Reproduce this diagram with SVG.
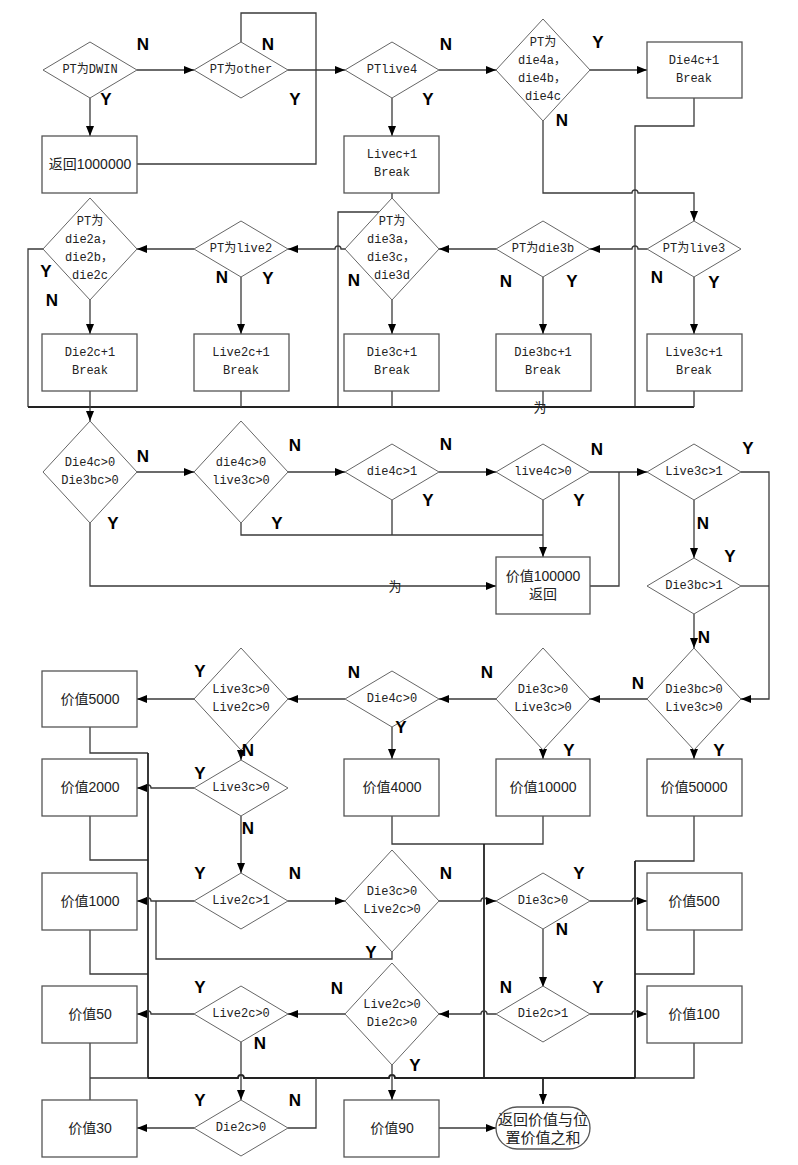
<svg xmlns="http://www.w3.org/2000/svg" width="798" height="1165" viewBox="0 0 798 1165">
<defs>
<marker id="ah" markerWidth="10" markerHeight="8" refX="10" refY="4" orient="auto" markerUnits="userSpaceOnUse">
<path d="M0,0 L10,4 L0,8 z" fill="#000"/>
</marker>
<style>
.c{fill:none;stroke:#3a3a3a;stroke-width:1.3}
.k{fill:none;stroke:#222;stroke-width:1.8}
.a{fill:none;stroke:#3a3a3a;stroke-width:1.3;marker-end:url(#ah)}
.d{fill:#fff;stroke:#666;stroke-width:1}
.b{fill:#fff;stroke:#555;stroke-width:1.3}
.m{font-family:"Liberation Mono","Noto Sans CJK SC",monospace;font-size:12px;fill:#222;text-anchor:middle;dominant-baseline:central}
.s{font-family:"Liberation Sans","Noto Sans CJK SC",sans-serif;font-size:14px;fill:#222;text-anchor:middle;dominant-baseline:central}
.l{font-family:"Liberation Sans",Arial,sans-serif;font-size:17px;font-weight:bold;fill:#000;text-anchor:middle;dominant-baseline:central}
</style>
</defs>
<rect width="798" height="1165" fill="#fff"/>
<g id="connectors">
<path class="a" d="M137,70 H194"/>
<path class="a" d="M90,98 V136"/>
<path class="a" d="M288,70 H345"/>
<path class="c" d="M137,164 H316 V13 H241 V42"/>
<path class="a" d="M439,70 H496"/>
<path class="a" d="M392,98 V136"/>
<path class="a" d="M590,70 H647"/>
<path class="c" d="M694,98 V126 H635 V407"/>
<path class="a" d="M543,121 V193 H632 a3,3 0 0 1 6,0 H694 V221"/>
<path class="c" d="M392,193 V212 H338 V407"/>
<path class="a" d="M647,249 H638 a3,3 0 0 0 -6,0 H590"/>
<path class="a" d="M496,249 H439"/>
<path class="a" d="M345,249 H341 a3,3 0 0 0 -6,0 H288"/>
<path class="a" d="M194,249 H137"/>
<path class="c" d="M43,249 H28 V407"/>
<path class="k" d="M28,407 H694"/>
<path class="a" d="M90,300 V334"/>
<path class="a" d="M241,277 V334"/>
<path class="a" d="M392,300 V334"/>
<path class="a" d="M543,277 V334"/>
<path class="a" d="M694,277 V334"/>
<path class="c" d="M241,391 V407 M392,391 V407 M543,391 V407 M694,391 V407"/>
<path class="a" d="M90,391 V421"/>
<path class="a" d="M137,472 H194"/>
<path class="a" d="M288,472 H345"/>
<path class="a" d="M439,472 H496"/>
<path class="a" d="M590,472 H647"/>
<path class="c" d="M590,586 H619 V472"/>
<path class="c" d="M241,523 V535 H543 M392,500 V535"/>
<path class="a" d="M543,500 V557"/>
<path class="a" d="M90,523 V586 H496"/>
<path class="a" d="M741,472 H769 V699 H741"/>
<path class="c" d="M741,586 H769"/>
<path class="a" d="M694,500 V558"/>
<path class="a" d="M694,614 V648"/>
<path class="a" d="M647,699 H590"/>
<path class="a" d="M496,699 H439"/>
<path class="a" d="M345,699 H288"/>
<path class="a" d="M194,699 H137"/>
<path class="a" d="M694,750 V759"/>
<path class="a" d="M543,750 V759"/>
<path class="a" d="M392,727 V759"/>
<path class="a" d="M241,750 V760"/>
<path class="a" d="M194,788 H151 a3,3 0 0 0 -6,0 H137"/>
<path class="a" d="M241,816 V873"/>
<path class="c" d="M90,727 V753 H148 M90,816 V860 H148 M90,930 V974 H148"/>
<path class="k" d="M148,753 V1078"/>
<path class="c" d="M392,816 V844 H484 M543,816 V844 H484"/>
<path class="k" d="M484,844 V1078"/>
<path class="c" d="M694,816 V861 H635 M694,930 V974 H635 M694,1043 V1078 H635"/>
<path class="k" d="M635,861 V1078"/>
<path class="k" d="M148,1078 H238 a3,3 0 0 1 6,0 H389 a3,3 0 0 1 6,0 H635"/>
<path class="c" d="M90,1078 H148"/>
<path class="k" d="M543,1078 V1104" marker-end="url(#ah)"/>
<path class="a" d="M194,901 H151 a3,3 0 0 0 -6,0 H137"/>
<path class="a" d="M288,901 H345"/>
<path class="a" d="M439,901 H481 a3,3 0 0 1 6,0 H496"/>
<path class="a" d="M590,901 H632 a3,3 0 0 1 6,0 H647"/>
<path class="c" d="M392,952 V959 H156 V901"/>
<path class="a" d="M543,929 V987"/>
<path class="a" d="M590,1014 H632 a3,3 0 0 1 6,0 H647"/>
<path class="a" d="M496,1014 H487 a3,3 0 0 0 -6,0 H439"/>
<path class="a" d="M345,1014 H288"/>
<path class="a" d="M194,1014 H151 a3,3 0 0 0 -6,0 H137"/>
<path class="a" d="M241,1042 V1100"/>
<path class="a" d="M392,1065 V1100"/>
<path class="c" d="M90,1043 V1100"/>
<path class="c" d="M316,1078 V1128 H288"/>
<path class="a" d="M194,1128 H137"/>
<path class="a" d="M439,1128 H496"/>
</g>
<g id="n_dwin"><polygon class="d" points="43,70 90,42 137,70 90,98"/><text class="m" x="90" y="70">PT为DWIN</text></g>
<g id="n_other"><polygon class="d" points="194,70 241,42 288,70 241,98"/><text class="m" x="241" y="70">PT为other</text></g>
<g id="n_live4"><polygon class="d" points="345,70 392,42 439,70 392,98"/><text class="m" x="392" y="70">PTlive4</text></g>
<g id="n_die4"><polygon class="d" points="496,70 543,19 590,70 543,121"/><text class="m" x="543" y="43">PT为</text><text class="m" x="542" y="61">die4a，</text><text class="m" x="542" y="79">die4b，</text><text class="m" x="543" y="97">die4c</text></g>
<g id="n_die4c"><rect class="b" x="647" y="42" width="95" height="56"/><text class="m" x="694" y="61">Die4c+1</text><text class="m" x="694" y="79">Break</text></g>
<g id="n_ret1000000"><rect class="b" x="42" y="136" width="95" height="57"/><text class="s" x="90" y="164">返回1000000</text></g>
<g id="n_livec"><rect class="b" x="344" y="136" width="95" height="57"/><text class="m" x="392" y="155">Livec+1</text><text class="m" x="392" y="173">Break</text></g>
<g id="n_die2"><polygon class="d" points="43,249 90,198 137,249 90,300"/><text class="m" x="90" y="222">PT为</text><text class="m" x="89" y="240">die2a，</text><text class="m" x="89" y="258">die2b，</text><text class="m" x="90" y="276">die2c</text></g>
<g id="n_live2"><polygon class="d" points="194,249 241,221 288,249 241,277"/><text class="m" x="241" y="249">PT为live2</text></g>
<g id="n_die3"><polygon class="d" points="345,249 392,198 439,249 392,300"/><text class="m" x="392" y="222">PT为</text><text class="m" x="391" y="240">die3a，</text><text class="m" x="391" y="258">die3c，</text><text class="m" x="392" y="276">die3d</text></g>
<g id="n_die3b"><polygon class="d" points="496,249 543,221 590,249 543,277"/><text class="m" x="543" y="249">PT为die3b</text></g>
<g id="n_live3"><polygon class="d" points="647,249 694,221 741,249 694,277"/><text class="m" x="694" y="249">PT为live3</text></g>
<g id="n_die2c"><rect class="b" x="42" y="334" width="95" height="57"/><text class="m" x="90" y="353">Die2c+1</text><text class="m" x="90" y="371">Break</text></g>
<g id="n_live2c"><rect class="b" x="194" y="334" width="95" height="57"/><text class="m" x="241" y="353">Live2c+1</text><text class="m" x="241" y="371">Break</text></g>
<g id="n_die3c"><rect class="b" x="344" y="334" width="95" height="57"/><text class="m" x="392" y="353">Die3c+1</text><text class="m" x="392" y="371">Break</text></g>
<g id="n_die3bc"><rect class="b" x="496" y="334" width="95" height="57"/><text class="m" x="543" y="353">Die3bc+1</text><text class="m" x="543" y="371">Break</text></g>
<g id="n_live3c"><rect class="b" x="647" y="334" width="95" height="57"/><text class="m" x="694" y="353">Live3c+1</text><text class="m" x="694" y="371">Break</text></g>
<g id="n_r3a"><polygon class="d" points="43,472 90,421 137,472 90,523"/><text class="m" x="90" y="463">Die4c&gt;0</text><text class="m" x="90" y="481">Die3bc&gt;0</text></g>
<g id="n_r3b"><polygon class="d" points="194,472 241,421 288,472 241,523"/><text class="m" x="241" y="463">die4c&gt;0</text><text class="m" x="241" y="481">live3c&gt;0</text></g>
<g id="n_r3c"><polygon class="d" points="345,472 392,444 439,472 392,500"/><text class="m" x="392" y="472">die4c&gt;1</text></g>
<g id="n_r3d"><polygon class="d" points="496,472 543,444 590,472 543,500"/><text class="m" x="543" y="472">live4c&gt;0</text></g>
<g id="n_r3e"><polygon class="d" points="647,472 694,444 741,472 694,500"/><text class="m" x="694" y="472">Live3c&gt;1</text></g>
<g id="n_v100000"><rect class="b" x="496" y="557" width="94" height="57"/><text class="s" x="543" y="576">价值100000</text><text class="s" x="543" y="594">返回</text></g>
<g id="n_die3bc1"><polygon class="d" points="647,586 694,558 741,586 694,614"/><text class="m" x="694" y="586">Die3bc&gt;1</text></g>
<g id="n_v5000"><rect class="b" x="42" y="671" width="95" height="56"/><text class="s" x="90" y="699">价值5000</text></g>
<g id="n_r4b"><polygon class="d" points="194,699 241,648 288,699 241,750"/><text class="m" x="241" y="690">Live3c&gt;0</text><text class="m" x="241" y="708">Live2c&gt;0</text></g>
<g id="n_r4c"><polygon class="d" points="345,699 392,671 439,699 392,727"/><text class="m" x="392" y="699">Die4c&gt;0</text></g>
<g id="n_r4d"><polygon class="d" points="496,699 543,648 590,699 543,750"/><text class="m" x="543" y="690">Die3c&gt;0</text><text class="m" x="543" y="708">Live3c&gt;0</text></g>
<g id="n_r4e"><polygon class="d" points="647,699 694,648 741,699 694,750"/><text class="m" x="694" y="690">Die3bc&gt;0</text><text class="m" x="694" y="708">Live3c&gt;0</text></g>
<g id="n_v2000"><rect class="b" x="42" y="759" width="95" height="57"/><text class="s" x="90" y="787">价值2000</text></g>
<g id="n_live3c0"><polygon class="d" points="194,788 241,760 288,788 241,816"/><text class="m" x="241" y="788">Live3c&gt;0</text></g>
<g id="n_v4000"><rect class="b" x="344" y="759" width="95" height="57"/><text class="s" x="392" y="787">价值4000</text></g>
<g id="n_v10000"><rect class="b" x="496" y="759" width="94" height="57"/><text class="s" x="543" y="787">价值10000</text></g>
<g id="n_v50000"><rect class="b" x="647" y="759" width="95" height="57"/><text class="s" x="694" y="787">价值50000</text></g>
<g id="n_v1000"><rect class="b" x="42" y="873" width="95" height="57"/><text class="s" x="90" y="901">价值1000</text></g>
<g id="n_live2c1"><polygon class="d" points="194,901 241,873 288,901 241,929"/><text class="m" x="241" y="901">Live2c&gt;1</text></g>
<g id="n_r5c"><polygon class="d" points="345,901 392,850 439,901 392,952"/><text class="m" x="392" y="892">Die3c&gt;0</text><text class="m" x="392" y="910">Live2c&gt;0</text></g>
<g id="n_die3c0"><polygon class="d" points="496,901 543,873 590,901 543,929"/><text class="m" x="543" y="901">Die3c&gt;0</text></g>
<g id="n_v500"><rect class="b" x="647" y="873" width="95" height="57"/><text class="s" x="694" y="901">价值500</text></g>
<g id="n_v50"><rect class="b" x="42" y="986" width="95" height="57"/><text class="s" x="90" y="1014">价值50</text></g>
<g id="n_live2c0"><polygon class="d" points="194,1014 241,986 288,1014 241,1042"/><text class="m" x="241" y="1014">Live2c&gt;0</text></g>
<g id="n_r6c"><polygon class="d" points="345,1014 392,963 439,1014 392,1065"/><text class="m" x="392" y="1005">Live2c&gt;0</text><text class="m" x="392" y="1023">Die2c&gt;0</text></g>
<g id="n_die2c1"><polygon class="d" points="496,1014 543,986 590,1014 543,1042"/><text class="m" x="543" y="1014">Die2c&gt;1</text></g>
<g id="n_v100"><rect class="b" x="647" y="986" width="95" height="57"/><text class="s" x="694" y="1014">价值100</text></g>
<g id="n_v30"><rect class="b" x="42" y="1100" width="95" height="57"/><text class="s" x="90" y="1128">价值30</text></g>
<g id="n_die2c0"><polygon class="d" points="194,1128 241,1100 288,1128 241,1156"/><text class="m" x="241" y="1128">Die2c&gt;0</text></g>
<g id="n_v90"><rect class="b" x="344" y="1100" width="95" height="57"/><text class="s" x="392" y="1128">价值90</text></g>
<g id="n_end"><rect class="b" x="496" y="1107" width="94" height="42" rx="21" ry="21"/><text class="s" x="543" y="1119" style="font-size:15px">返回价值与位</text><text class="s" x="543" y="1137" style="font-size:15px">置价值之和</text></g>
<g id="labels">
<text class="l" x="143" y="44">N</text><text class="l" x="268" y="44">N</text><text class="l" x="106" y="99">Y</text><text class="l" x="295" y="99">Y</text>
<text class="l" x="446" y="44">N</text><text class="l" x="428" y="99">Y</text><text class="l" x="598" y="42">Y</text><text class="l" x="562" y="120">N</text>
<text class="l" x="46" y="271">Y</text><text class="l" x="52" y="300">N</text><text class="l" x="222" y="277">N</text><text class="l" x="268" y="278">Y</text>
<text class="l" x="354" y="280">N</text><text class="l" x="506" y="281">N</text><text class="l" x="572" y="281">Y</text><text class="l" x="657" y="277">N</text><text class="l" x="714" y="282">Y</text>
<text class="l" x="143" y="456">N</text><text class="l" x="113" y="523">Y</text><text class="l" x="295" y="445">N</text><text class="l" x="277" y="523">Y</text>
<text class="l" x="446" y="444">N</text><text class="l" x="428" y="500">Y</text><text class="l" x="597" y="449">N</text><text class="l" x="579" y="500">Y</text>
<text class="l" x="748" y="448">Y</text><text class="l" x="703" y="523">N</text><text class="l" x="730" y="556">Y</text><text class="l" x="704" y="637">N</text>
<text class="l" x="200" y="671">Y</text><text class="l" x="354" y="672">N</text><text class="l" x="487" y="672">N</text><text class="l" x="638" y="683">N</text>
<text class="l" x="569" y="750">Y</text><text class="l" x="719" y="750">Y</text><text class="l" x="401" y="727">Y</text><text class="l" x="248" y="750">N</text>
<text class="l" x="200" y="773">Y</text><text class="l" x="248" y="828">N</text>
<text class="l" x="200" y="873">Y</text><text class="l" x="295" y="873">N</text><text class="l" x="371" y="952">Y</text><text class="l" x="446" y="873">N</text>
<text class="l" x="579" y="873">Y</text><text class="l" x="562" y="929">N</text>
<text class="l" x="200" y="987">Y</text><text class="l" x="337" y="988">N</text><text class="l" x="506" y="987">N</text><text class="l" x="598" y="987">Y</text>
<text class="l" x="260" y="1043">N</text><text class="l" x="415" y="1065">Y</text>
<text class="l" x="200" y="1100">Y</text><text class="l" x="295" y="1100">N</text>
<text class="s" x="540" y="407" style="font-size:13px">为</text>
<text class="s" x="395" y="586" style="font-size:13px">为</text>
</g>
</svg>
